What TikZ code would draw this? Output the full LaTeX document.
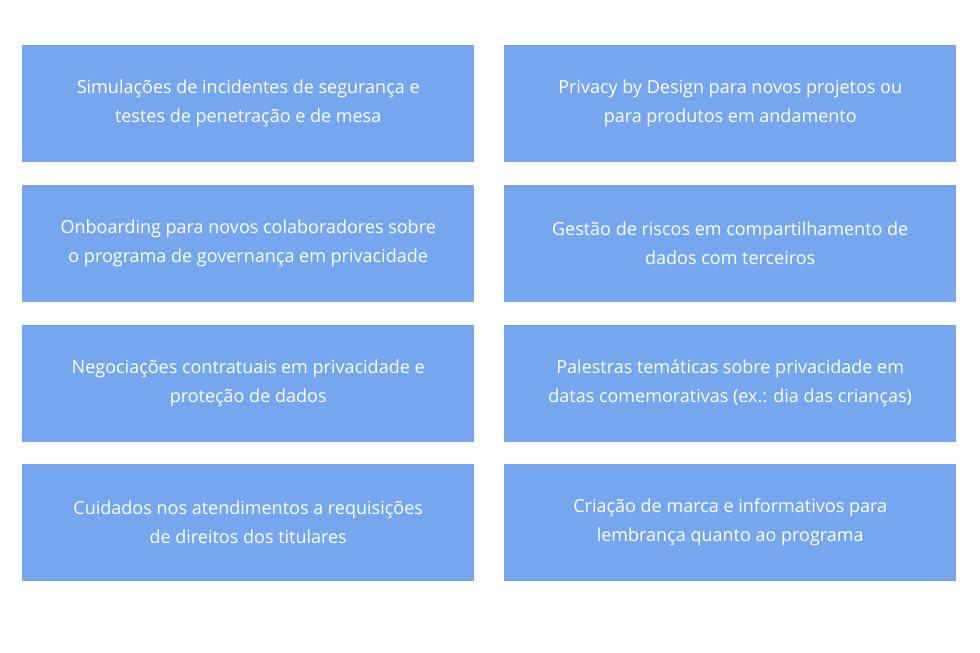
\documentclass[tikz,border=0pt]{standalone}
\usepackage{fontspec}
\setmainfont{Open Sans}
\definecolor{boxblue}{HTML}{76A7EE}
\begin{document}
\begin{tikzpicture}[x=1pt,y=-1pt,
  card/.style={fill=boxblue,draw=none,minimum width=452pt,minimum height=117pt,anchor=north west,inner sep=0pt,
    text=white,align=center,font=\fontsize{18}{29}\selectfont}]
\useasboundingbox (0,0) rectangle (980,653);
\fill[white] (0,0) rectangle (980,653);
\node[card] (a1) at (22,45) {Simulações de incidentes de segurança e\\testes de penetração e de mesa};
\node[card] (b1) at (504,45) {Privacy by Design para novos projetos ou\\para produtos em andamento};
\node[card] (a2) at (22,185) {Onboarding para novos colaboradores sobre\\o programa de governança em privacidade};
\node[card] (b2) at (504,185) {Gestão de riscos em compartilhamento de\\dados com terceiros};
\node[card] (a3) at (22,325) {Negociações contratuais em privacidade e\\proteção de dados};
\node[card] (b3) at (504,325) {Palestras temáticas sobre privacidade em\\datas comemorativas (ex.: dia das crianças)};
\node[card] (a4) at (22,464) {Cuidados nos atendimentos a requisições\\de direitos dos titulares};
\node[card] (b4) at (504,464) {Criação de marca e informativos para\\lembrança quanto ao programa};
\end{tikzpicture}
\end{document}
